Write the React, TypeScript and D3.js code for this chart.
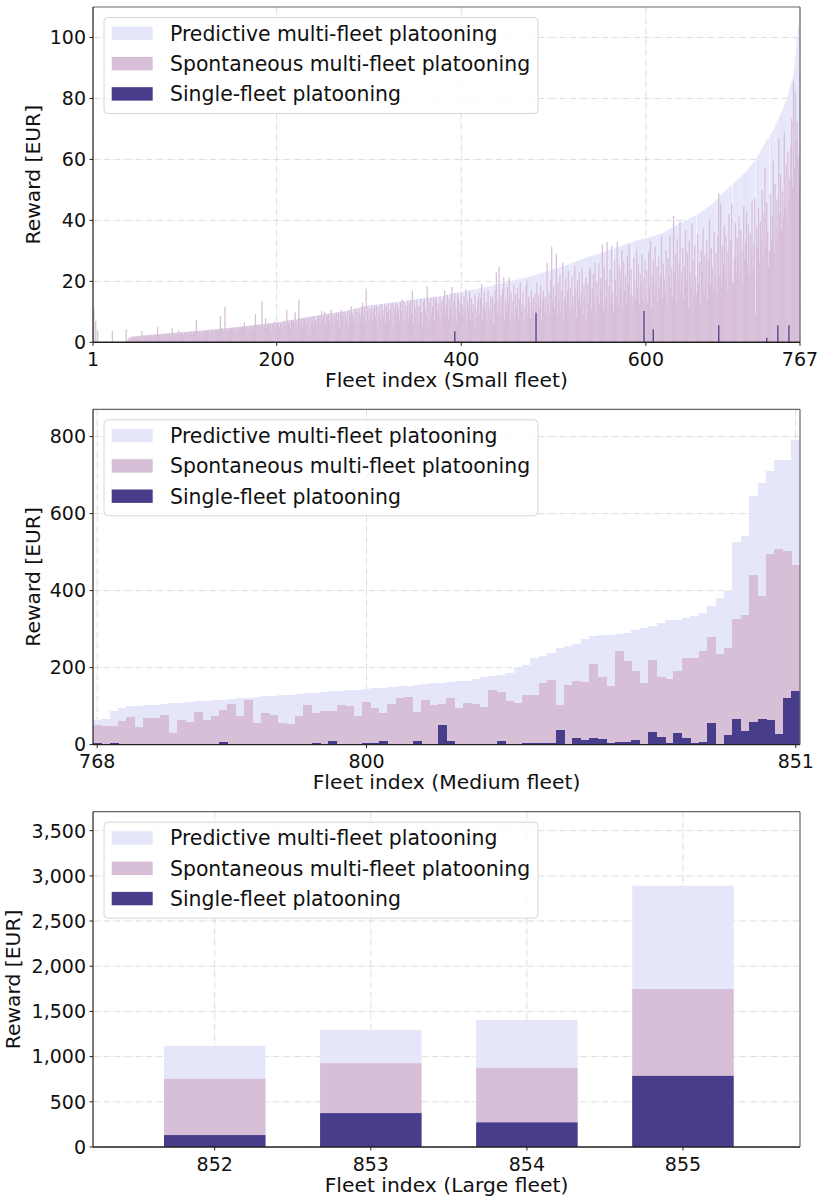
import { useRef, useEffect } from "react";
import * as d3 from "d3";

const seriesNames = [
  "Predictive multi-fleet platooning",
  "Spontaneous multi-fleet platooning",
  "Single-fleet platooning",
];
const seriesColors = ["#E6E6FA", "#D8BFD8", "#483D8B"];

// small fleets, index 1..767
const smallPredictive = [
  0,0,0,0,0,0,0,0,0,0,0,0,0,0,0,0,0,0,0,0,
  0,0,0,0,0,0,0,0,0,0,0,0,0,0,0,0,0,0.6,1.0,1.3,
  1.6,1.8,1.8,1.9,1.9,1.9,2.0,2.0,2.0,2.1,2.1,2.1,2.2,2.2,2.2,2.3,2.3,2.3,2.3,2.4,
  2.4,2.4,2.4,2.5,2.5,2.5,2.5,2.6,2.6,2.6,2.6,2.7,2.7,2.7,2.7,2.8,2.8,2.8,2.8,2.9,
  2.9,2.9,2.9,3.0,3.0,3.0,3.0,3.1,3.1,3.1,3.1,3.2,3.2,3.2,3.2,3.3,3.3,3.3,3.3,3.4,
  3.4,3.4,3.4,3.5,3.5,3.5,3.5,3.6,3.6,3.6,3.6,3.7,3.7,3.7,3.7,3.8,3.8,3.8,3.9,3.9,
  3.9,3.9,4.0,4.0,4.0,4.1,4.1,4.1,4.1,4.2,4.2,4.2,4.3,4.3,4.3,4.3,4.4,4.4,4.4,4.5,
  4.5,4.5,4.5,4.6,4.6,4.6,4.7,4.7,4.7,4.8,4.8,4.8,4.9,4.9,4.9,5.0,5.0,5.0,5.1,5.1,
  5.1,5.2,5.2,5.2,5.3,5.3,5.3,5.4,5.4,5.4,5.5,5.5,5.5,5.6,5.6,5.6,5.7,5.7,5.7,5.8,
  5.8,5.8,5.9,5.9,6.0,6.0,6.0,6.1,6.1,6.2,6.2,6.2,6.3,6.3,6.4,6.4,6.4,6.5,6.5,6.6,
  6.6,6.6,6.7,6.7,6.8,6.8,6.9,6.9,7.0,7.0,7.1,7.1,7.2,7.2,7.3,7.3,7.4,7.4,7.5,7.5,
  7.6,7.6,7.7,7.7,7.8,7.8,7.9,7.9,8.0,8.0,8.1,8.1,8.2,8.3,8.3,8.4,8.4,8.5,8.5,8.6,
  8.6,8.7,8.7,8.8,8.8,8.9,8.9,9.0,9.0,9.1,9.1,9.2,9.2,9.3,9.3,9.4,9.4,9.5,9.5,9.6,
  9.6,9.6,9.7,9.7,9.8,9.8,9.8,9.9,9.9,9.9,10.0,10.1,10.1,10.2,10.3,10.4,10.4,10.5,10.6,10.7,
  10.7,10.8,10.9,11.0,11.0,11.1,11.2,11.3,11.3,11.4,11.5,11.6,11.6,11.7,11.8,11.8,11.9,11.9,12.0,12.0,
  12.1,12.1,12.1,12.2,12.2,12.2,12.3,12.3,12.4,12.4,12.4,12.5,12.5,12.6,12.6,12.6,12.7,12.7,12.7,12.8,
  12.8,12.9,12.9,12.9,13.0,13.0,13.1,13.1,13.1,13.2,13.2,13.3,13.3,13.3,13.4,13.4,13.5,13.5,13.6,13.6,
  13.7,13.7,13.8,13.8,13.8,13.9,13.9,14.0,14.0,14.0,14.1,14.1,14.2,14.2,14.2,14.3,14.3,14.3,14.4,14.4,
  14.4,14.5,14.5,14.6,14.6,14.6,14.7,14.7,14.7,14.8,14.8,14.8,14.9,14.9,15.0,15.0,15.0,15.1,15.1,15.2,
  15.3,15.4,15.4,15.5,15.6,15.7,15.7,15.8,15.9,15.9,16.0,16.1,16.1,16.2,16.3,16.3,16.4,16.4,16.5,16.5,
  16.6,16.6,16.7,16.8,16.8,16.9,16.9,17.0,17.1,17.1,17.2,17.2,17.3,17.4,17.4,17.5,17.5,17.6,17.7,17.7,
  17.8,17.8,17.9,18.0,18.0,18.1,18.1,18.2,18.3,18.3,18.4,18.4,18.5,18.6,18.7,18.7,18.8,18.9,18.9,19.0,
  19.1,19.2,19.2,19.3,19.4,19.5,19.5,19.6,19.7,19.8,19.8,19.9,20.0,20.1,20.1,20.2,20.3,20.4,20.4,20.5,
  20.6,20.6,20.7,20.8,20.9,20.9,21.0,21.1,11.5,21.2,21.2,21.3,21.4,21.5,21.6,21.7,21.8,21.9,22.0,22.0,
  22.1,22.2,22.3,22.4,22.5,22.6,22.7,22.8,22.9,23.0,23.1,23.2,23.3,23.4,23.4,23.5,23.6,23.7,23.8,23.9,
  24.0,24.1,24.2,24.3,24.4,24.5,24.5,24.6,24.7,24.8,24.9,25.0,25.2,25.3,25.4,25.5,25.6,25.8,25.9,26.0,
  26.1,26.2,26.3,26.5,26.6,26.7,26.8,26.9,27.0,27.2,27.3,27.4,27.5,27.6,27.7,27.8,27.9,28.0,28.1,28.2,
  28.3,28.4,28.5,28.6,28.7,28.8,28.9,29.0,29.1,29.2,29.3,29.4,29.5,29.6,29.7,29.8,30.0,30.1,30.2,30.3,
  30.4,30.5,30.6,30.7,12.0,30.9,31.0,31.1,31.2,31.3,31.4,31.5,31.6,31.7,31.8,31.9,32.0,32.1,32.2,32.4,
  32.5,32.6,32.7,32.8,15.5,33.0,33.1,33.2,33.3,33.4,33.4,33.5,33.6,33.7,33.7,33.8,33.9,33.9,34.0,34.1,
  34.1,34.2,34.3,34.4,34.5,34.6,34.7,34.8,34.9,35.0,35.1,35.2,35.3,35.4,35.5,35.6,35.7,35.8,35.9,36.1,
  36.3,36.5,36.6,36.8,37.0,37.1,37.3,37.5,37.6,37.8,38.0,38.1,38.3,38.5,38.6,38.8,39.0,39.1,39.3,39.4,
  39.6,39.7,39.9,40.0,40.2,40.3,40.5,40.6,40.8,40.9,41.1,41.2,41.4,41.5,16.0,41.9,42.1,42.3,42.5,42.8,
  43.0,43.2,43.4,43.6,43.8,44.1,44.3,44.5,44.7,44.9,45.2,45.4,45.6,45.9,46.2,46.5,46.8,47.1,47.4,47.7,
  48.0,48.3,48.6,48.9,49.2,49.5,49.8,50.1,50.4,50.7,51.0,51.3,51.6,20.0,52.1,52.4,52.7,52.9,53.2,53.5,
  53.8,54.0,54.3,54.6,54.9,55.1,55.4,55.7,56.0,56.4,56.8,57.2,57.6,58.0,58.3,58.7,59.1,59.5,9.0,60.3,
  60.9,61.4,62.0,62.5,63.1,63.6,64.2,64.7,65.2,65.7,66.2,66.7,67.2,30.0,68.1,68.6,69.1,69.6,70.3,70.9,
  71.6,72.2,72.9,73.5,74.2,74.8,75.5,76.1,76.7,77.6,78.4,79.3,80.1,81.0,82.1,83.2,84.3,85.4,86.5,87.6,
  90.5,93.5,96.4,100.0,103.0,104.5,105.5,
];

const smallSpontaneous = [
  0,11.0,0,7.0,0,4.0,0,0,0,0,0,0,0,0,0,0,0,0,0,0,
  0,3.7,0,0,0,0,0,0,0,0,0,0,0,0,0,0,4.2,0.5,0.8,1.2,
  1.5,1.8,1.2,1.9,1.8,1.5,2.0,1.9,2.0,1.6,2.1,2.0,2.2,3.7,2.1,2.3,1.9,2.3,2.2,2.4,
  2.0,2.4,2.3,2.5,1.8,2.5,2.4,2.6,2.2,2.6,5.0,2.7,2.5,2.7,2.0,2.8,2.7,2.5,2.8,2.9,
  2.6,2.9,2.8,3.0,2.2,3.0,4.5,3.1,2.9,3.1,2.5,3.2,3.0,3.9,3.2,2.8,3.3,3.3,2.4,3.4,
  3.2,3.4,2.9,3.5,3.5,3.1,3.5,3.6,2.7,3.6,3.4,3.7,7.3,3.5,3.7,3.8,3.0,3.8,3.9,3.6,
  3.9,3.2,4.0,3.8,4.0,4.1,2.9,4.1,3.9,4.2,4.2,3.6,4.3,4.1,4.3,3.3,4.4,4.2,8.6,4.5,
  4.5,3.9,4.5,11.7,4.6,4.2,4.7,3.5,4.7,4.8,4.6,4.8,4.1,4.9,4.9,5.0,3.8,5.0,5.1,4.7,
  5.1,4.4,5.2,5.2,6.6,4.8,5.3,5.4,3.9,5.4,5.5,5.1,5.5,4.3,5.6,5.6,9.3,5.7,5.0,5.8,
  5.8,4.6,5.9,13.6,6.0,5.2,6.0,7.9,4.8,6.2,6.2,5.5,6.3,3.8,6.4,6.1,6.4,6.8,5.3,6.6,
  6.0,6.6,4.9,6.7,6.2,3.8,6.9,6.5,7.0,5.4,10.7,7.1,6.0,7.2,4.6,7.3,6.8,7.4,5.9,9.9,
  7.2,5.1,7.7,14.0,7.8,6.3,7.9,4.5,8.0,7.4,8.1,6.0,8.2,7.5,8.3,3.9,8.4,7.1,8.5,6.2,
  8.6,7.3,5.8,8.8,8.1,8.9,6.4,9.0,10.2,7.7,9.1,10.0,5.2,9.3,8.5,9.4,6.9,9.5,10.7,8.0,
  9.6,5.6,9.7,8.4,9.8,7.0,9.8,4.8,9.9,10.7,8.6,10.1,6.3,10.2,9.1,7.4,10.4,5.5,10.6,8.9,
  11.8,9.4,6.7,11.0,8.2,11.1,10.0,5.9,11.3,9.6,7.8,11.6,13.0,8.5,11.8,6.4,17.6,10.3,12.0,7.2,
  11.0,9.8,12.1,6.9,10.7,12.2,8.3,12.3,5.1,11.4,9.2,12.5,7.6,12.6,10.5,8.8,12.7,6.0,11.9,9.7,
  12.8,7.4,10.9,12.9,8.7,13.0,5.8,11.6,13.1,9.3,12.4,11.0,7.1,13.3,10.2,14.0,8.4,13.5,6.6,12.1,
  10.0,13.7,7.9,12.6,13.8,9.4,16.8,6.2,14.0,11.3,8.6,14.1,12.0,7.0,11.8,14.3,9.9,5.4,13.2,14.4,
  10.8,8.1,18.4,14.6,6.9,12.9,14.7,9.5,11.7,14.8,7.3,13.6,14.9,10.4,12.7,8.9,15.0,6.5,13.8,11.2,
  15.3,17.0,9.1,12.4,15.6,7.7,14.1,10.9,15.9,18.1,8.3,13.5,16.1,11.6,6.8,16.0,14.2,9.7,12.8,16.2,
  12.3,8.4,15.1,10.6,17.4,6.2,13.9,11.0,16.8,7.5,14.4,9.8,12.5,5.7,15.8,10.9,8.1,13.7,16.2,9.3,
  14.6,19.2,7.4,12.0,16.5,9.9,13.2,6.8,17.1,11.5,8.7,15.3,10.2,14.8,5.9,12.7,16.9,23.0,9.4,13.6,
  24.7,8.8,15.5,11.9,17.6,21.4,7.2,14.0,10.6,18.2,12.8,21.2,6.5,16.3,9.7,13.4,19.0,8.0,15.8,11.3,
  17.9,7.6,14.2,19.8,10.1,12.9,16.7,6.4,11.5,18.6,20.3,9.2,15.0,13.1,7.9,17.3,10.8,14.6,8.5,16.1,
  12.2,19.6,9.0,15.7,11.4,18.9,7.1,13.8,17.0,10.3,14.9,8.6,26.0,12.5,16.4,9.8,20.7,31.5,13.0,18.3,
  11.1,15.6,29.0,8.9,19.5,13.3,22.1,10.0,17.2,26.0,7.8,14.3,20.9,12.1,16.8,23.4,9.5,18.0,11.7,21.6,
  14.8,10.4,25.0,17.5,8.2,20.4,13.6,22.8,11.9,16.0,24.1,9.1,18.7,14.4,21.3,7.5,19.2,12.6,23.7,24.4,
  10.7,17.8,22.4,13.9,26.3,9.6,19.9,15.2,26.0,12.3,21.0,17.1,32.0,10.5,24.6,14.1,20.2,32.9,11.8,18.5,
  23.9,13.5,31.5,16.6,9.8,27.1,20.6,14.7,32.9,12.0,25.3,18.1,22.7,30.2,10.9,26.5,16.9,21.8,13.2,28.4,
  19.3,32.0,15.4,24.0,15.5,11.6,27.7,20.0,14.3,30.5,17.7,25.6,12.4,22.3,18.8,28.9,13.7,21.1,26.8,16.2,
  23.5,13.1,29.6,18.4,33.2,11.0,21.9,26.7,15.8,31.4,19.6,24.8,12.9,28.2,17.3,22.0,34.6,14.5,25.9,20.8,
  16.7,30.1,12.2,27.4,21.5,35.0,18.0,24.3,14.9,41.5,22.6,28.8,13.4,33.9,19.7,26.1,39.6,16.3,23.2,31.0,
  14.2,25.0,36.8,20.1,29.5,11.5,33.3,22.9,17.6,39.0,27.0,15.1,31.8,21.4,16.0,35.6,18.9,26.2,12.7,30.4,
  23.8,37.5,16.4,28.6,20.5,33.7,13.8,26.9,40.2,19.1,30.9,24.4,17.2,36.1,22.0,29.3,15.6,34.8,48.9,21.7,
  45.6,18.3,31.6,25.7,38.4,20.9,35.0,16.8,29.9,42.0,24.6,33.5,45.6,19.4,20.0,27.8,39.1,22.5,34.3,28.0,
  41.2,23.0,36.7,30.2,18.8,44.5,27.3,33.1,43.0,25.4,38.6,21.6,35.8,29.0,46.3,24.1,32.4,47.2,9.0,37.9,
  30.7,44.1,26.3,39.5,34.0,50.2,28.4,42.6,57.3,31.9,45.8,36.4,24.7,30.0,48.7,33.6,41.3,59.5,29.1,52.0,
  38.2,46.9,34.5,66.9,42.4,55.1,36.9,49.6,40.8,69.0,44.7,58.3,39.6,62.4,47.5,53.8,64.1,73.4,50.9,85.7,
  57.2,81.9,66.0,72.5,60.9,48.3,52.7,
];

// single-fleet rewards of small fleets are zero except these
const smallSingleIdx = [393, 481, 598, 608, 679, 731, 743, 755];
const smallSingleVal = [3.6, 9.7, 10.3, 4.2, 5.6, 1.5, 5.6, 5.6];

// medium fleets, index 768..851
const mediumPredictive = [
  65, 66, 88, 94, 99, 100, 103, 104, 106, 107, 109, 110, 113, 114, 116, 117, 119, 120, 122, 123,
  125, 127, 129, 130, 132, 133, 135, 137, 138, 139, 141, 143, 145, 146, 148, 149, 151, 153, 156, 158,
  160, 161, 162, 164, 166, 170, 175, 178, 181, 185, 198, 207, 224, 230, 237, 250, 255, 261, 274, 283,
  284, 285, 288, 290, 298, 304, 307, 317, 323, 324, 329, 333, 342, 361, 381, 398, 526, 542, 646, 679,
  711, 740, 740, 790,
];
const mediumSpontaneous = [
  50, 49, 48, 62, 72, 46, 70, 70, 77, 31, 63, 59, 85, 65, 74, 91, 105, 75, 116, 57,
  83, 77, 57, 53, 75, 103, 81, 88, 88, 102, 101, 74, 111, 94, 81, 105, 122, 124, 85, 117,
  104, 105, 122, 94, 107, 105, 97, 143, 137, 113, 109, 130, 130, 161, 168, 104, 155, 165, 162, 209,
  175, 153, 242, 217, 190, 161, 220, 175, 170, 190, 226, 224, 244, 279, 235, 250, 326, 337, 440, 387,
  496, 507, 503, 466,
];
const mediumSingle = [
  3, 0, 3, 0, 0, 0, 0, 0, 0, 0, 0, 0, 0, 0, 0, 7, 0, 0, 0, 0,
  0, 0, 0, 0, 0, 0, 3, 0, 10, 0, 0, 0, 4, 4, 10, 0, 0, 0, 9, 0,
  0, 50, 10, 0, 0, 0, 0, 0, 10, 0, 0, 3, 5, 4, 4, 39, 0, 17, 11, 16,
  14, 5, 7, 7, 11, 0, 32, 20, 4, 31, 18, 4, 7, 57, 0, 24, 66, 36, 59, 66,
  63, 27, 120, 139,
];

// large fleets
const largeFleets = [852, 853, 854, 855];
const largePredictive = [1119, 1295, 1406, 2892];
const largeSpontaneous = [754, 927, 876, 1748];
const largeSingle = [132, 375, 272, 787];

const smallFleets = d3.range(1, 768);
const mediumFleets = d3.range(768, 852);
const smallSingle = smallFleets.map((i) => {
  const k = smallSingleIdx.indexOf(i);
  return k >= 0 ? smallSingleVal[k] : 0;
});

const FONT = "DejaVu Sans";

function App() {
  const svgRef = useRef<SVGSVGElement>(null);

  useEffect(() => {
    drawChart();
  }, []);

  function drawChart() {
    if (!svgRef.current) return;
    const svg = d3.select(svgRef.current);
    svg.selectAll("*").remove();

    const left = 93;
    const right = 800;
    const plotH = 335.3;

    const panels = [
      {
        top: 7,
        xDomain: [1, 767],
        yMax: 110,
        xTicks: [1, 200, 400, 600, 767],
        yTicks: [0, 20, 40, 60, 80, 100],
        xLabel: "Fleet index (Small fleet)",
        barWidth: 1,
        overlap: 0.35,
        crisp: false,
        fleets: smallFleets,
        series: [smallPredictive, smallSpontaneous, smallSingle],
        yLabelX: 40,
        fmt: d3.format("d"),
      },
      {
        top: 409.3,
        xDomain: [767.5, 851.5],
        yMax: 871,
        xTicks: [768, 800, 851],
        yTicks: [0, 200, 400, 600, 800],
        xLabel: "Fleet index (Medium fleet)",
        barWidth: 1,
        overlap: 0.6,
        crisp: true,
        fleets: mediumFleets,
        series: [mediumPredictive, mediumSpontaneous, mediumSingle],
        yLabelX: 40,
        fmt: d3.format("d"),
      },
      {
        top: 811.7,
        xDomain: [851.22, 855.75],
        yMax: 3710,
        xTicks: largeFleets,
        yTicks: [0, 500, 1000, 1500, 2000, 2500, 3000, 3500],
        xLabel: "Fleet index (Large fleet)",
        barWidth: 0.65,
        overlap: 0,
        crisp: false,
        fleets: largeFleets,
        series: [largePredictive, largeSpontaneous, largeSingle],
        yLabelX: 20,
        fmt: d3.format(","),
      },
    ];

    panels.forEach((p, k) => {
      const x = d3.scaleLinear().domain(p.xDomain).range([left, right]);
      const y = d3.scaleLinear().domain([0, p.yMax]).range([p.top + plotH, p.top]);
      const bottom = p.top + plotH;
      const g = svg.append("g");

      g.append("clipPath")
        .attr("id", `clip${k}`)
        .append("rect")
        .attr("x", left)
        .attr("y", p.top)
        .attr("width", right - left)
        .attr("height", plotH);

      // grid
      const grid = g.append("g")
        .attr("stroke", "#b0b0b0")
        .attr("stroke-opacity", 0.55)
        .attr("stroke-width", 0.8)
        .attr("stroke-dasharray", "6.4,1.6,1,1.6");
      p.yTicks.forEach((t) => {
        grid.append("line").attr("x1", left).attr("x2", right).attr("y1", y(t)).attr("y2", y(t));
      });
      p.xTicks.forEach((t) => {
        grid.append("line").attr("x1", x(t)).attr("x2", x(t)).attr("y1", p.top).attr("y2", bottom);
      });

      // bars, drawn over each other from 0; a hair of overlap hides seams
      const bars = g.append("g").attr("clip-path", `url(#clip${k})`);
      if (p.crisp) bars.attr("shape-rendering", "crispEdges");
      p.series.forEach((vals, s) => {
        bars.append("g")
          .attr("fill", seriesColors[s])
          .selectAll("rect")
          .data(p.fleets.map((f, i) => ({ f, v: vals[i] })).filter((d) => d.v > 0))
          .join("rect")
          .attr("x", (d) => x(d.f - p.barWidth / 2) - p.overlap / 2)
          .attr("width", (d) => x(d.f + p.barWidth / 2) - x(d.f - p.barWidth / 2) + p.overlap)
          .attr("y", (d) => y(d.v))
          .attr("height", (d) => y(0) - y(d.v));
      });

      // spines
      g.append("line").attr("x1", left).attr("x2", right).attr("y1", p.top).attr("y2", p.top)
        .attr("stroke", "#666").attr("stroke-width", 1.2);
      g.append("line").attr("x1", right).attr("x2", right).attr("y1", p.top).attr("y2", bottom)
        .attr("stroke", "#666").attr("stroke-width", 1.2);
      g.append("line").attr("x1", left).attr("x2", left).attr("y1", p.top).attr("y2", bottom)
        .attr("stroke", "#222").attr("stroke-width", 1.2);
      g.append("line").attr("x1", left).attr("x2", right).attr("y1", bottom).attr("y2", bottom)
        .attr("stroke", "#222").attr("stroke-width", 1.4);

      // ticks
      p.yTicks.forEach((t) => {
        g.append("line").attr("x1", left - 3.5).attr("x2", left).attr("y1", y(t)).attr("y2", y(t))
          .attr("stroke", "#222").attr("stroke-width", 1);
        g.append("text").attr("x", left - 7).attr("y", y(t)).attr("dy", "0.36em")
          .attr("text-anchor", "end").attr("font-family", FONT).attr("font-size", 19)
          .attr("fill", "#111").text(p.fmt(t));
      });
      p.xTicks.forEach((t) => {
        g.append("line").attr("x1", x(t)).attr("x2", x(t)).attr("y1", bottom).attr("y2", bottom + 3.5)
          .attr("stroke", "#222").attr("stroke-width", 1);
        g.append("text").attr("x", x(t)).attr("y", bottom + 23.5)
          .attr("text-anchor", "middle").attr("font-family", FONT).attr("font-size", 19)
          .attr("fill", "#111").text(String(t));
      });

      // axis labels
      g.append("text").attr("x", (left + right) / 2).attr("y", bottom + 44.5)
        .attr("text-anchor", "middle").attr("font-family", FONT).attr("font-size", 20.3)
        .attr("fill", "#111").text(p.xLabel);
      g.append("text")
        .attr("transform", `translate(${p.yLabelX},${p.top + plotH / 2}) rotate(-90)`)
        .attr("text-anchor", "middle").attr("font-family", FONT).attr("font-size", 20.3)
        .attr("fill", "#111").text("Reward [EUR]");

      // legend
      const lg = g.append("g");
      lg.append("rect")
        .attr("x", 104).attr("y", p.top + 10.5).attr("width", 434).attr("height", 96)
        .attr("rx", 4).attr("fill", "#fff").attr("fill-opacity", 0.8)
        .attr("stroke", "#d6d6d6").attr("stroke-width", 1);
      seriesNames.forEach((name, s) => {
        const cy = p.top + 26.3 + s * 30.3;
        lg.append("rect").attr("x", 111.7).attr("y", cy - 6.7).attr("width", 41).attr("height", 13.4)
          .attr("fill", seriesColors[s]);
        lg.append("text").attr("x", 170).attr("y", cy + 7.3)
          .attr("font-family", FONT).attr("font-size", 20.4).attr("fill", "#111").text(name);
      });
    });
  }

  return (
    <svg
      ref={svgRef}
      width={826}
      height={1204}
      style={{ position: "absolute", left: 0, top: 0, background: "#fff" }}
    />
  );
}

export default App;
